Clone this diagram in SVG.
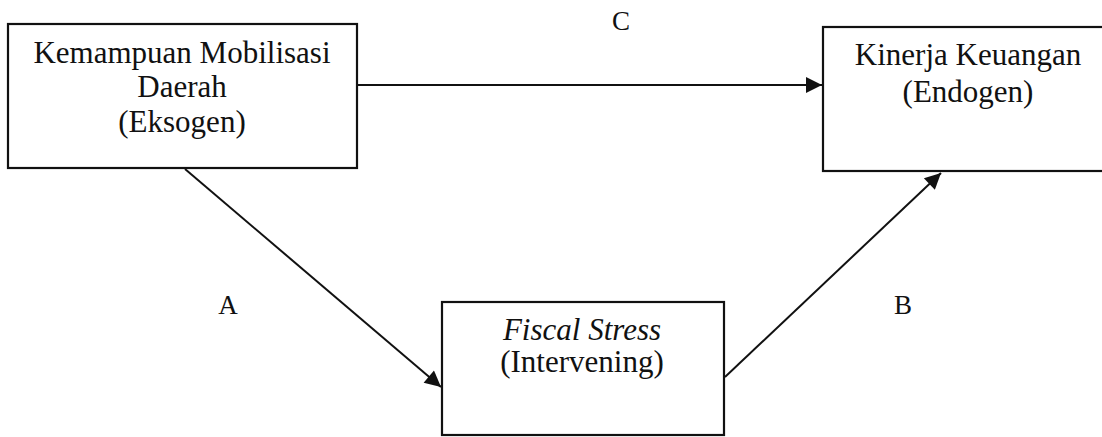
<svg xmlns="http://www.w3.org/2000/svg" width="1102" height="437" viewBox="0 0 1102 437">
<style>
.box{fill:#fff;stroke:#111;stroke-width:2.2}
.t{font-family:"Liberation Serif","Times New Roman",serif;font-size:31px;fill:#111;text-anchor:middle}
.l{font-size:27px}
.i{font-style:italic}
.c{stroke:#111;stroke-width:2;fill:none}
</style>
<defs>
<marker id="ah2" viewBox="0 0 10 10" refX="10" refY="5" markerWidth="18" markerHeight="16" markerUnits="userSpaceOnUse" orient="auto">
<path d="M0,0 L10,5 L0,10 z" fill="#111"/>
</marker>
</defs>
<rect width="1102" height="437" fill="#fff"/>
<g id="connectors">
<line class="c" x1="357" y1="85" x2="822" y2="85" marker-end="url(#ah2)"/>
<line class="c" x1="185" y1="169" x2="441" y2="387" marker-end="url(#ah2)"/>
<line class="c" x1="725" y1="377" x2="941" y2="173" marker-end="url(#ah2)"/>
</g>
<g id="node-kemampuan">
<rect class="box" x="8" y="24" width="349" height="144"/>
<text class="t" x="182" y="63">Kemampuan Mobilisasi</text>
<text class="t" x="182" y="97">Daerah</text>
<text class="t" x="182" y="132">(Eksogen)</text>
</g>
<g id="node-kinerja">
<rect class="box" x="823" y="27" width="290" height="144"/>
<text class="t" x="968" y="65">Kinerja Keuangan</text>
<text class="t" x="968" y="102">(Endogen)</text>
</g>
<g id="node-fiscal">
<rect class="box" x="442" y="302" width="282" height="133"/>
<text class="t i" x="582" y="340">Fiscal Stress</text>
<text class="t" x="582" y="372">(Intervening)</text>
</g>
<g id="labels">
<text class="t l" x="621" y="30">C</text>
<text class="t l" x="228" y="314">A</text>
<text class="t l" x="903" y="314">B</text>
</g>
</svg>
